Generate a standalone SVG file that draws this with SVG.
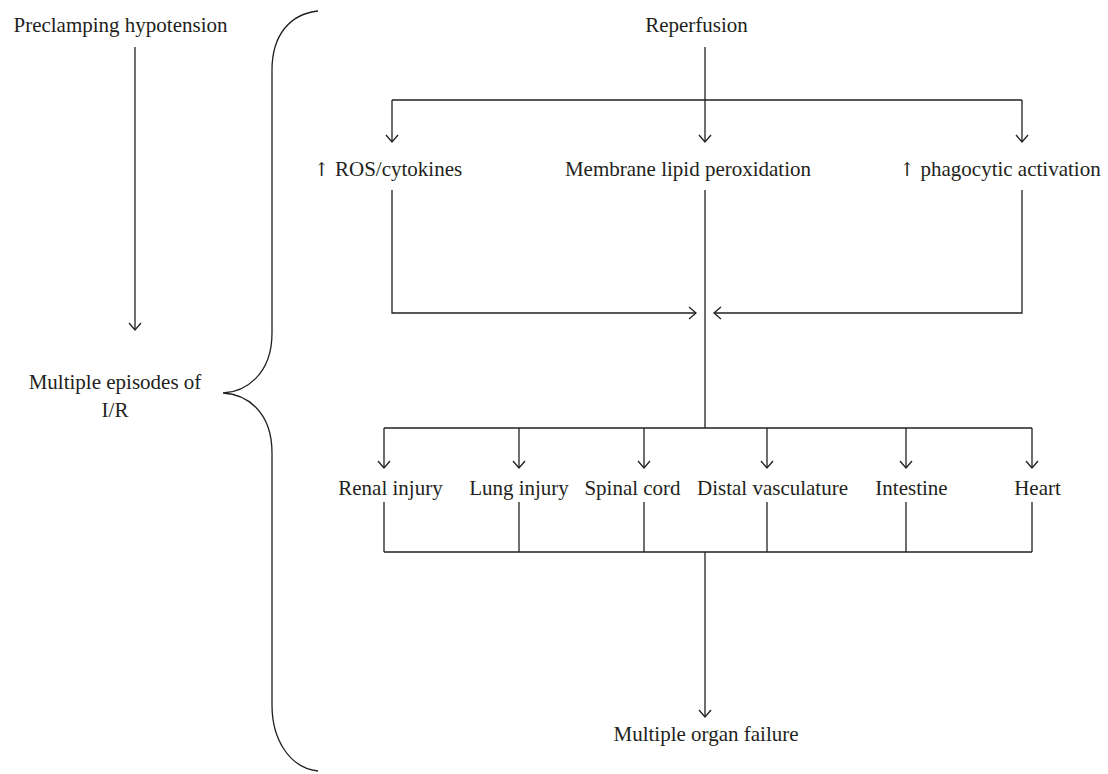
<svg xmlns="http://www.w3.org/2000/svg" width="1108" height="774" viewBox="0 0 1108 774">
<defs>
<style>
text{font-family:"Liberation Serif","Times New Roman",serif;font-size:21px;fill:#231f20;text-anchor:middle}
.ar{font-family:"DejaVu Serif",serif;font-size:19px}
.c line,.c path,.c polyline{stroke:#231f20;stroke-width:1.3;fill:none}
.a{marker-end:url(#ah)}
</style>
<marker id="ah" markerUnits="userSpaceOnUse" markerWidth="16" markerHeight="16" viewBox="-8 -8 16 16" refX="0" refY="0" orient="auto">
<path d="M-7,-6 L0,0 L-7,6" fill="none" stroke="#231f20" stroke-width="1.3"/>
</marker>
</defs>
<rect width="1108" height="774" fill="#fff"/>
<g id="n-preclamp"><text x="120.5" y="32">Preclamping hypotension</text></g>
<g id="n-episodes"><text x="115" y="389">Multiple episodes of</text><text x="115" y="417">I/R</text></g>
<g id="n-reperfusion"><text x="696.5" y="32">Reperfusion</text></g>
<g id="n-ros"><text x="388" y="176"><tspan class="ar">↑</tspan> ROS/cytokines</text></g>
<g id="n-membrane"><text x="688" y="176">Membrane lipid peroxidation</text></g>
<g id="n-phago"><text x="1000" y="176"><tspan class="ar">↑</tspan> phagocytic activation</text></g>
<g id="n-renal"><text x="390.5" y="495">Renal injury</text></g>
<g id="n-lung"><text x="519" y="495">Lung injury</text></g>
<g id="n-spinal"><text x="632.5" y="495">Spinal cord</text></g>
<g id="n-distal"><text x="772.5" y="495">Distal vasculature</text></g>
<g id="n-intestine"><text x="911.5" y="495">Intestine</text></g>
<g id="n-heart"><text x="1037.5" y="495">Heart</text></g>
<g id="n-mof"><text x="706" y="741">Multiple organ failure</text></g>
<g id="connectors" class="c">
<path id="brace" d="M318,11 C290,14 272,35 272,70 L272,333 C272,375 245,392 223,393 C245,394 272,410 272,453 L272,705 C272,740 290,768 318,771"/>
<line class="a" x1="135" y1="47" x2="135" y2="330"/>
<line class="a" x1="705" y1="47" x2="705" y2="142"/>
<line x1="392" y1="100" x2="1022" y2="100"/>
<line class="a" x1="392" y1="100" x2="392" y2="142"/>
<line class="a" x1="1022" y1="100" x2="1022" y2="142"/>
<polyline class="a" points="392,190 392,313 696,313"/>
<polyline class="a" points="1022,190 1022,313 714,313"/>
<line x1="705" y1="190" x2="705" y2="428"/>
<line x1="384" y1="428" x2="1032" y2="428"/>
<line class="a" x1="384" y1="428" x2="384" y2="468"/>
<line class="a" x1="519" y1="428" x2="519" y2="468"/>
<line class="a" x1="644" y1="428" x2="644" y2="468"/>
<line class="a" x1="767" y1="428" x2="767" y2="468"/>
<line class="a" x1="906" y1="428" x2="906" y2="468"/>
<line class="a" x1="1032" y1="428" x2="1032" y2="468"/>
<line x1="384" y1="502" x2="384" y2="552"/>
<line x1="519" y1="502" x2="519" y2="552"/>
<line x1="644" y1="502" x2="644" y2="552"/>
<line x1="767" y1="502" x2="767" y2="552"/>
<line x1="906" y1="502" x2="906" y2="552"/>
<line x1="1032" y1="502" x2="1032" y2="552"/>
<line x1="384" y1="552" x2="1032" y2="552"/>
<line class="a" x1="705" y1="552" x2="705" y2="717"/>
</g>
</svg>
